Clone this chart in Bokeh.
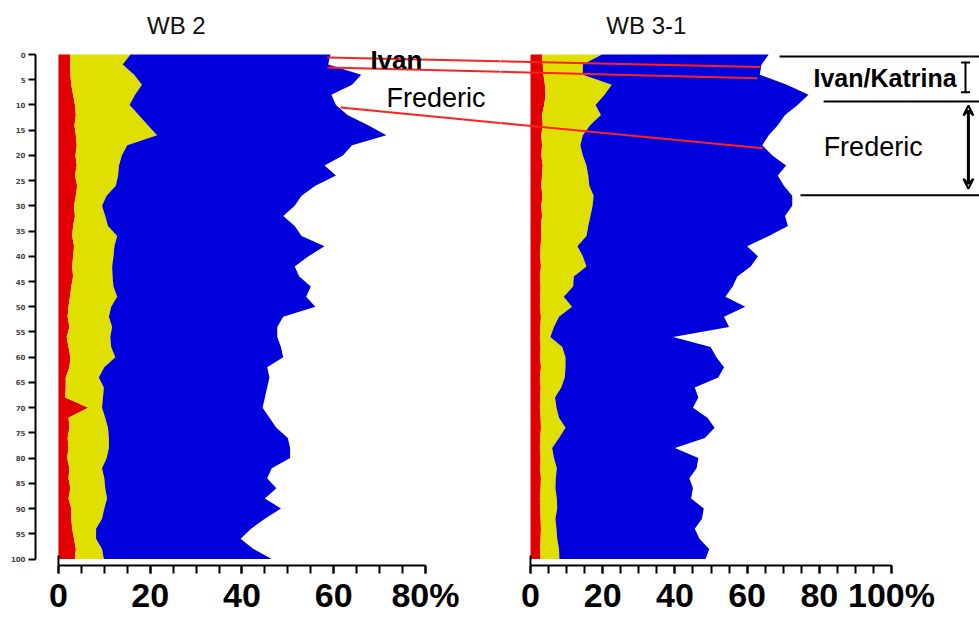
from bokeh.plotting import figure
from bokeh.models import ColumnDataSource, Range1d, FixedTicker, Arrow, VeeHead, TeeHead
from bokeh.layouts import row
from bokeh.embed import file_html
from bokeh.resources import INLINE
from bokeh.core.properties import value

# ---------------- data (depth in cm, cumulative % boundaries) ----------------
depth = list(range(0, 101, 2))

wb2_red = [2.6, 2.6, 2.6, 2.8, 3.2, 3.6, 3.8, 3.5, 3.8, 4.0,
           3.7, 4.0, 3.6, 4.1, 3.8, 3.4, 3.6, 3.2, 3.0, 3.4,
           3.2, 3.0, 3.2, 2.8, 2.5, 2.2, 2.0, 2.4, 1.8, 2.2,
           2.6, 2.4, 1.6, 1.6, 1.5, 6.5, 2.2, 2.4, 2.0, 2.2,
           1.9, 2.4, 2.2, 2.6, 2.2, 2.8, 2.8, 3.0, 3.4, 3.8,
           3.6]
wb2_red_yellow = [15.7, 14.0, 16.5, 18.2, 16.7, 15.5, 17.5, 19.5, 21.5, 15.0,
                  13.8, 13.2, 13.0, 12.5, 10.5, 9.5, 10.2, 10.8, 12.8, 12.2,
                  12.0, 11.7, 11.8, 12.0, 12.8, 11.5, 11.0, 11.7, 11.3, 11.5,
                  12.4, 10.0, 8.8, 9.9, 9.7, 9.5, 10.2, 10.8, 11.0, 11.0,
                  10.5, 9.5, 10.0, 10.2, 10.6, 10.0, 9.5, 8.2, 8.2, 9.5,
                  9.9]
wb2_total = [59.3, 58.8, 66.0, 64.0, 59.5, 60.5, 63.0, 67.5, 71.5, 64.0,
             62.0, 58.0, 60.5, 56.0, 53.0, 51.5, 49.0, 51.5, 53.0, 58.0,
             54.5, 51.5, 52.5, 55.0, 54.0, 56.0, 49.0, 47.7, 47.7, 48.5,
             49.0, 45.5, 46.0, 45.5, 45.0, 44.5, 46.0, 47.5, 50.0, 50.5,
             50.5, 46.5, 45.5, 47.5, 45.0, 48.5, 45.0, 42.0, 39.7, 42.5,
             46.5]

wb31_red = [3.2, 3.4, 3.6, 4.0, 4.2, 3.8, 3.2, 3.4, 3.0, 3.2,
            3.0, 3.4, 3.2, 3.0, 3.3, 3.0, 3.2, 2.9, 3.0, 2.8,
            2.7, 2.9, 2.6, 2.8, 2.7, 2.6, 2.9, 2.7, 2.6, 2.8,
            2.7, 2.9, 2.6, 2.8, 2.7, 2.6, 2.8, 2.9, 2.7, 2.6,
            2.8, 2.7, 2.9, 2.8, 2.6, 2.7, 2.8, 2.9, 2.8, 2.7,
            2.8]
wb31_red_yellow = [19.8, 14.5, 14.5, 22.5, 20.5, 18.0, 19.5, 16.5, 14.5, 13.8,
                   14.5, 15.5, 16.0, 16.3, 17.5, 17.2, 16.6, 16.0, 15.5, 13.0,
                   14.5, 15.5, 12.0, 11.8, 9.2, 11.5, 7.9, 6.5, 5.5, 8.8,
                   9.7, 9.7, 9.5, 8.5, 6.8, 7.2, 7.9, 9.7, 7.9, 6.0,
                   6.5, 7.3, 7.0, 6.9, 7.3, 7.4, 6.9, 7.2, 7.4, 7.9,
                   8.0]
wb31_total = [66.0, 64.0, 63.5, 71.0, 77.0, 74.0, 70.5, 68.5, 66.0, 64.2,
              67.0, 70.8, 68.5, 70.2, 72.5, 72.5, 70.5, 71.3, 66.0, 60.0,
              63.0, 61.0, 57.3, 56.0, 54.0, 59.5, 53.6, 55.0, 39.5, 49.9,
              51.5, 53.6, 52.0, 45.5, 46.5, 45.0, 49.0, 51.0, 48.3, 40.0,
              46.5, 46.0, 44.0, 45.0, 44.5, 48.0, 47.5, 45.5, 46.8, 49.5,
              48.5]

depth_ticks = list(range(0, 101, 5))
wb2_ticks = [0, 20, 40, 60, 80]
wb31_ticks = [0, 20, 40, 60, 80, 100]
titles = ["WB 2", "WB 3-1"]

# ---------------- styling / layout ----------------
RED, YEL, BLUE = "#E00000", "#E0E000", "#0000DD"
LINE_RED = "#FF2020"
FONT = "Liberation Sans"

PX_L, PX_R = 4.5875, 3.61          # px per % in each panel
L_X0 = -5.0
L_X1 = L_X0 + 465 / PX_L
R_X0 = -30 / PX_R
R_X1 = R_X0 + 479 / PX_R
PX_D = 5.045
Y_TOP = -54 / PX_D
Y_BOT = (565 - 54) / PX_D


def stacked_source(red, ry, tot):
    return ColumnDataSource(dict(
        depth=depth,
        red=red,
        yellow=[b - a for a, b in zip(red, ry)],
        blue=[b - a for a, b in zip(ry, tot)],
    ))


def make_fig(width, xr, left_border, yaxis):
    p = figure(width=width, height=622, x_range=Range1d(*xr),
               y_range=Range1d(Y_BOT, Y_TOP), output_backend="svg",
               toolbar_location=None, min_border_left=left_border,
               min_border_right=0, min_border_top=0, min_border_bottom=57,
               y_axis_location="left" if yaxis else None,
               outline_line_color=None)
    p.grid.visible = False
    return p


def style_xaxis(ax, ticks, last_label, bound):
    ax.ticker = FixedTicker(ticks=ticks, minor_ticks=list(range(0, bound + 1, 5)))
    ax.bounds = (0, bound)
    ax.axis_line_width = 2
    ax.major_tick_line_width = 2
    ax.minor_tick_line_width = 2
    ax.major_tick_out = 8
    ax.major_tick_in = 0
    ax.minor_tick_out = 8
    ax.minor_tick_in = 0
    ax.major_label_standoff = 2
    ax.major_label_text_font = FONT
    ax.major_label_text_font_style = "bold"
    ax.major_label_text_font_size = "34px"
    ax.major_label_text_color = "black"
    ax.major_label_overrides = {ticks[-1]: last_label}


# ---------------- WB 2 ----------------
p1 = make_fig(500, (L_X0, L_X1), 35, True)
p1.harea_stack(["red", "yellow", "blue"], y="depth", color=[RED, YEL, BLUE],
               source=stacked_source(wb2_red, wb2_red_yellow, wb2_total))
style_xaxis(p1.xaxis[0], wb2_ticks, "80%", 80)
ya = p1.yaxis[0]
ya.ticker = FixedTicker(ticks=depth_ticks, minor_ticks=[])
ya.bounds = (0, 100)
ya.axis_line_width = 2
ya.major_tick_line_width = 2
ya.major_tick_out = 7
ya.major_tick_in = 0
ya.major_label_standoff = 3
ya.major_label_text_font_size = "7px"
ya.major_label_text_font_style = "bold"
ya.major_label_text_font = "DejaVu Sans"

# ---------------- WB 3-1 ----------------
p2 = make_fig(479, (R_X0, R_X1), 0, False)
p2.harea_stack(["red", "yellow", "blue"], y="depth", color=[RED, YEL, BLUE],
               source=stacked_source(wb31_red, wb31_red_yellow, wb31_total))
style_xaxis(p2.xaxis[0], wb31_ticks, "100%", 100)

for p in (p1, p2):
    p.segment(x0=[0], y0=[99.3], x1=[0], y1=[Y_BOT], line_color="black", line_width=2)

# titles
p1.text(x=[25.7], y=[-5.8], text=[titles[0]], text_font=value(FONT),
        text_font_size="24px", text_align="center", text_baseline="middle", text_color="#111111")
p2.text(x=[32.1], y=[-5.8], text=[titles[1]], text_font=value(FONT),
        text_font_size="24px", text_align="center", text_baseline="middle", text_color="#111111")

# ---------------- cross-panel event lines ----------------
def lpx(v):
    return 35 + (v - L_X0) * PX_L


def rpx(v):
    return 500 + (v - R_X0) * PX_R


events = [((58.6, 0.6), (63.7, 2.5)),
          ((58.6, 2.6), (62.9, 4.7)),
          ((61.5, 10.5), (64.3, 18.6))]
for (vl, dl), (vr, dr) in events:
    xl, xr_ = lpx(vl), rpx(vr)
    slope = (dr - dl) / (xr_ - xl)            # depth units per px
    d_l_end = dl + slope * (505 - xl)
    d_r_start = dl + slope * (495 - xl)
    p1.line([vl, L_X1 + 5 / PX_L], [dl, d_l_end], line_color=LINE_RED, line_width=2)
    p2.line([R_X0 - 5 / PX_R, vr], [d_r_start, dr], line_color=LINE_RED, line_width=2)

p1.text(x=[68.0], y=[1.1], text=["Ivan"], text_font=value(FONT), text_font_style="bold",
        text_font_size="26px", text_baseline="middle", text_color="black")
p1.text(x=[71.5], y=[8.6], text=["Frederic"], text_font=value(FONT),
        text_font_size="27px", text_baseline="middle", text_color="black")

# right-hand interval markers
p2.segment(x0=[69.0, 81.2, 74.8], y0=[0.4, 9.3, 27.9], x1=[R_X1] * 3, y1=[0.4, 9.3, 27.9],
           line_color="black", line_width=2)
p2.text(x=[78.4], y=[4.6], text=["Ivan/Katrina"], text_font=value(FONT), text_font_style="bold",
        text_font_size="25px", text_baseline="middle", text_color="black")
p2.text(x=[81.2], y=[18.4], text=["Frederic"], text_font=value(FONT),
        text_font_size="27px", text_baseline="middle", text_color="black")
p2.add_layout(Arrow(start=TeeHead(size=9, line_width=2), end=TeeHead(size=9, line_width=2),
                    x_start=120.5, y_start=1.6, x_end=120.5, y_end=7.5, line_width=2))
p2.add_layout(Arrow(start=VeeHead(size=10, line_width=2, fill_color=None),
                    end=VeeHead(size=10, line_width=2, fill_color=None),
                    x_start=121.3, y_start=10.1, x_end=121.3, y_end=26.6, line_width=3))

layout = row(p1, p2, spacing=0)
open("out.html", "w").write(file_html(layout, INLINE))
